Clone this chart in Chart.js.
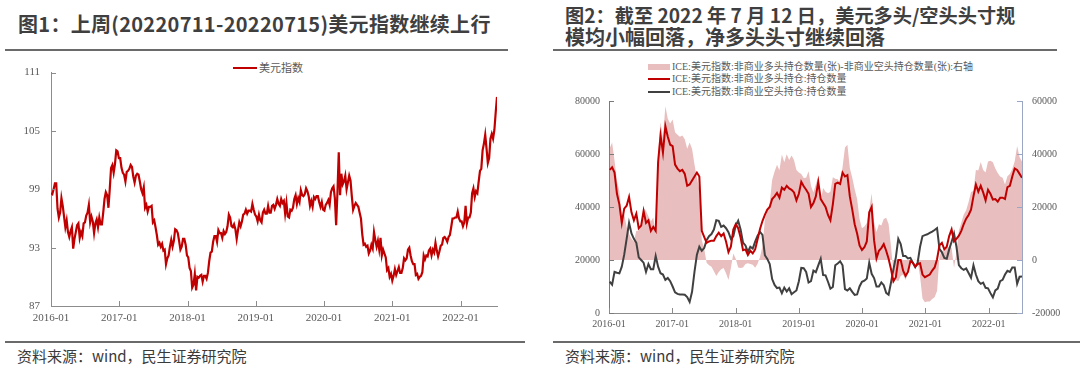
<!DOCTYPE html>
<html>
<head>
<meta charset="utf-8">
<script src="https://cdn.jsdelivr.net/npm/chart.js@4.4.0/dist/chart.umd.min.js"></script>
<style>
body { margin: 0; width: 1080px; height: 368px; background: #fff; position: relative; overflow: hidden; font-family: "Noto Sans CJK SC", sans-serif; }
.t { position: absolute; font-weight: bold; font-size: 20px; color: #3f3f3f; line-height: 22px; white-space: nowrap; }
.rule { position: absolute; height: 2px; background: #6a6a6a; }
.src { position: absolute; top: 346px; font-size: 15px; color: #3a3a3a; white-space: nowrap; line-height: 20px; }
.lg { position: absolute; font-family: "Liberation Serif", "Noto Sans CJK SC", serif; font-size: 10px; color: #595959; white-space: nowrap; line-height: 12px; }
.lg i { display: inline-block; vertical-align: middle; margin-right: 2px; position: relative; top: -1px; }
canvas { position: absolute; }
</style>
</head>
<body>
<div class="t" style="left:18px;top:13px;letter-spacing:0.3px">图1：上周(20220711-20220715)美元指数继续上行</div>
<div class="t" style="left:565px;top:4px"><span style="font-size:19.2px">图2：截至 2022 年 7 月 12 日，美元多头/空头头寸规</span><br>模均小幅回落，净多头头寸继续回落</div>
<div class="rule" style="left:5px;top:49px;width:503px"></div>
<div class="rule" style="left:553px;top:49px;width:504px"></div>
<div class="rule" style="left:5px;top:341px;width:520px"></div>
<div class="rule" style="left:553px;top:341px;width:527px"></div>
<div class="src" style="left:17px">资料来源：wind，民生证券研究院</div>
<div class="src" style="left:565px">资料来源：wind，民生证券研究院</div>

<div class="lg" style="left:233px;top:62px;font-size:11px"><i style="width:24px;height:2px;background:#C00000"></i>美元指数</div>
<div class="lg" style="left:648px;top:61px"><i style="width:22px;height:6px;background:#E8BEBE"></i>ICE:美元指数:非商业多头持仓数量(张)-非商业空头持仓数量(张):右轴</div>
<div class="lg" style="left:648px;top:73px"><i style="width:22px;height:2px;background:#C00000"></i>ICE:美元指数:非商业多头持仓:持仓数量</div>
<div class="lg" style="left:648px;top:86px"><i style="width:22px;height:2px;background:#404040"></i>ICE:美元指数:非商业空头持仓:持仓数量</div>

<canvas id="c1" width="530" height="285" style="left:0;top:55px"></canvas>
<canvas id="c2" width="535" height="285" style="left:545px;top:55px"></canvas>

<script>
// 美元指数, weekly (Fridays) from 2016-01-01
const dxyStart = '2016-01-01';
const dxyValues = [
  98.6, 98.5, 99.0, 99.6, 99.6, 97.0, 96.1, 96.6, 98.1, 97.3, 96.2, 95.1, 95.8, 94.6, 94.1, 94.7, 95.1, 92.9,
  93.9, 94.6, 95.3, 95.5, 94.0, 94.6, 94.2, 95.5, 95.6, 96.3, 96.6, 97.4, 95.6, 96.2, 95.7, 94.5, 95.5,
  95.9, 95.1, 96.1, 95.4, 95.4, 96.6, 98.0, 98.7, 98.4, 97.1, 99.0, 101.2, 101.5, 100.7, 101.6, 103.0, 102.9, 102.2,
  // 2017
  102.2, 101.2, 100.7, 100.5, 99.8, 100.8, 100.9, 101.1, 101.5, 101.3, 100.3, 99.7, 100.4, 100.6, 100.5, 99.8, 99.0,
  98.6, 99.2, 97.1, 97.4, 96.7, 97.2, 97.2, 97.3, 95.6, 95.8, 95.1, 94.3, 93.3, 93.5, 93.1, 93.4, 92.7,
  92.8, 91.3, 91.9, 92.2, 93.1, 93.8, 93.1, 93.7, 94.9, 94.8, 94.5, 93.7, 92.8, 93.1, 93.9, 93.9, 93.3, 92.2,
  // 2018
  92.0, 90.9, 90.6, 88.9, 89.2, 90.3, 88.6, 90.0, 89.9, 90.1, 90.2, 89.5, 90.1, 90.1, 89.8, 90.4, 91.6,
  92.5, 92.6, 93.6, 94.2, 94.2, 93.6, 94.8, 94.5, 94.5, 94.0, 94.7, 94.4, 94.6, 95.2, 96.4, 96.1, 95.2, 95.1,
  95.4, 94.9, 93.9, 94.8, 95.6, 95.2, 95.7, 96.4, 96.5, 96.9, 96.5, 96.8, 96.8, 96.7, 97.5, 96.9, 96.4,
  // 2019
  96.2, 95.7, 96.4, 95.8, 95.6, 96.6, 96.9, 96.5, 96.5, 97.3, 96.6, 96.6, 97.3, 97.4, 97.0, 97.4, 98.0,
  97.5, 97.3, 98.0, 97.6, 97.8, 96.5, 97.6, 96.2, 96.1, 96.9, 96.8, 97.1, 98.0, 98.4, 97.5, 98.1, 97.7, 98.9,
  98.4, 98.3, 98.5, 99.1, 98.8, 98.3, 97.3, 97.8, 97.2, 98.2, 98.0, 98.3, 98.3, 97.7, 97.2, 97.7, 96.9,
  // 2020
  96.8, 97.4, 97.6, 97.9, 97.4, 98.7, 99.1, 99.3, 98.1, 95.3, 98.7, 102.8, 98.4, 100.6, 99.5, 99.8, 100.4,
  99.0, 99.7, 100.4, 99.9, 98.3, 96.9, 97.3, 97.6, 97.4, 97.2, 96.6, 96.0, 94.4, 93.3, 93.4, 93.1, 93.2, 92.4,
  92.7, 93.3, 92.9, 94.6, 93.8, 93.1, 93.7, 92.8, 94.0, 92.2, 92.8, 92.4, 92.0, 90.7, 90.9, 90.0, 90.3,
  // 2021
  89.6, 90.1, 90.8, 90.2, 90.6, 91.0, 90.4, 90.4, 90.9, 91.9, 91.7, 91.9, 92.8, 93.0, 92.2, 91.6, 91.3, 91.3,
  90.2, 90.3, 89.8, 90.0, 90.1, 90.5, 92.2, 91.8, 92.2, 92.1, 92.7, 92.9, 92.2, 92.8, 92.5, 93.5, 92.7,
  92.1, 92.6, 93.2, 93.3, 94.0, 94.1, 93.9, 93.6, 94.1, 94.3, 95.1, 96.0, 96.0, 96.1, 96.1, 96.7, 96.0, 95.7,
  // 2022
  95.7, 95.2, 95.6, 97.3, 95.5, 96.1, 96.1, 96.6, 98.6, 99.1, 98.2, 98.8, 98.6, 99.8, 100.9, 101.1, 103.0,
  103.7, 104.6, 103.2, 101.7, 102.2, 104.2, 104.7, 104.2, 105.1, 106.9, 108.5
];

// ICE 美元指数 非商业持仓, every two weeks from 2016-01-05
const cotStart = '2016-01-05';
const longPos = [
  54000, 55000, 53000, 45000, 41000, 34000, 39400, 40500, 43800, 38000,
  35000, 37500, 32000, 33000, 38500, 34000, 35000, 31000, 32500, 31000,
  57000, 67000, 60500, 70500, 66500, 63500, 63000, 56000, 54500, 53500,
  54000, 52500, 48000, 48500, 50000, 51500, 53000, 51500, 31000, 28700,
  26500, 27000, 27300, 27300, 29000, 30300, 29000, 30000, 27000, 23000,
  25000, 31500, 33500, 32000, 28500, 23700, 24000, 21900, 23500, 22500,
  24000, 27800, 31700, 34700, 37000, 39000, 40000, 43000, 44000, 45300,
  43500, 47300, 46500, 48000, 47000, 46500, 45500, 42500, 45000, 49500,
  47800, 46500, 45000, 40000, 41500,
  44000, 49500, 43000, 41500, 40000, 37000, 35000, 41000, 48700, 49200,
  48700, 53000, 51500, 52000, 44000, 39000, 33500, 30000, 25500, 23800,
  24800, 27000, 38000, 40000, 27500, 20600, 23500, 24500, 26000, 23500,
  20500, 16500, 12000, 13500, 20000, 20000, 16000, 14000, 15500, 19500,
  19000, 17500, 18500, 18800, 14500, 13500, 14000, 14500, 16000, 17200,
  20300, 25500, 26500, 24000, 25000, 29000, 31500, 27000, 28000, 29200,
  31000, 33500, 35600, 37000, 39000, 44000, 48500, 45800, 48000, 45500,
  42500, 46500, 45000, 42800, 43000, 42000, 43500, 43500, 43000, 47500,
  48000, 51500, 54500, 54000, 52500, 51000
];
const shortPos = [
  11800, 10700, 15500, 15200, 15000, 17500, 22000, 28000, 34000, 30000,
  28000, 26500, 21000, 20000, 19000, 15500, 18500, 16500, 16500, 21500,
  17500, 15000, 14500, 12500, 13200, 12000, 10000, 7800, 7200, 7000,
  7000, 6900, 6000, 4200, 8000, 15500, 22000, 25000, 23500, 24500,
  27500, 29000, 29800, 31500, 35000, 34800, 32500, 33000, 32000, 30500,
  28000, 29000, 33000, 34800, 31500, 26500, 25500, 23100, 25000, 24300,
  26900, 29200, 30600, 29500, 21800, 20400, 18500, 12800, 10600, 9400,
  9600, 7500, 9600, 8100, 9300, 7100, 7800, 8500, 12000, 17000,
  16900, 15500, 11500, 12000, 16000,
  15400, 18000, 20500, 14300, 14200, 11800, 9200, 9800, 18000, 18700,
  19500, 18000, 9000, 8500, 9300, 8000, 6800, 7000, 10000, 11800,
  12200, 13000, 19000, 14800, 13200, 10000, 10000, 11500, 10500, 7600,
  6900, 11500, 16500, 21000, 28000, 26000, 21500, 21500, 20600, 20800,
  19000, 17300, 19000, 25000, 29000, 29400, 29700, 30200, 30700, 31300,
  32000, 24200, 22900, 20800, 20500, 24000, 26900, 30000, 25000, 18100,
  16900, 16300, 16800, 15100, 13300, 18000, 14500, 12000, 11000, 11500,
  9500, 9300, 7500, 5900, 8500, 9200, 12000, 12500, 14500, 15900,
  15500, 17200, 17200, 11000, 13700, 13800
];
// net = long - short, as the legend says
const netPos = longPos.map((v, i) => v - shortPos[i]);

const yearTicks = [2016, 2017, 2018, 2019, 2020, 2021, 2022];

const RED = '#C00000', GREY = '#404040', PINK = '#E8BEBE';
const TXT = '#595959', AXIS = '#8c8c8c';
const SERIF = '"Liberation Serif", "Times New Roman", serif';

function toYear(d) {
  const y = d.getUTCFullYear();
  const a = Date.UTC(y, 0, 1), b = Date.UTC(y + 1, 0, 1);
  return y + (d - a) / (b - a);
}
function datesFrom(start, n, stepDays) {
  const t0 = Date.parse(start + 'T00:00:00Z');
  const out = [];
  for (let i = 0; i < n; i++) out.push(toYear(new Date(t0 + i * stepDays * 86400000)));
  return out;
}
const dxyX = datesFrom(dxyStart, dxyValues.length, 7);
const cotX = datesFrom(cotStart, longPos.length, 14);
const pts = (xs, ys) => xs.map((x, i) => ({ x: x, y: ys[i] }));

// small tick marks pointing into the plot
const innerTicks = {
  id: 'innerTicks',
  afterDraw(chart) {
    const ctx = chart.ctx;
    Object.values(chart.scales).forEach(s => {
      ctx.save();
      ctx.strokeStyle = s.options.border.color;
      ctx.lineWidth = 1;
      s.ticks.forEach(t => {
        const p = Math.round(s.getPixelForValue(t.value)) + 0.5;
        ctx.beginPath();
        if (s.axis === 'x') { ctx.moveTo(p, s.top); ctx.lineTo(p, s.top - 5); }
        else if (s.position === 'left') { ctx.moveTo(s.right, p); ctx.lineTo(s.right + 5, p); }
        else { ctx.moveTo(s.left, p); ctx.lineTo(s.left - 5, p); }
        ctx.stroke();
      });
      ctx.restore();
    });
  }
};

const noGrid = { display: false, drawTicks: false, tickLength: 0 };

function xAxis(max, h, size, pad) {
  return {
    type: 'linear', min: 2016, max: max,
    grid: noGrid,
    border: { color: AXIS, width: 1 },
    afterBuildTicks: s => { s.ticks = yearTicks.map(v => ({ value: v })); },
    afterFit: s => { s.height = h; },
    ticks: { callback: v => v + '-01', color: TXT, font: { family: SERIF, size: size }, padding: pad, maxRotation: 0, autoSkip: false }
  };
}

function yAxis(pos, min, max, step, w, size, pad, color) {
  return {
    position: pos, min: min, max: max,
    grid: noGrid,
    border: { color: color, width: 1 },
    afterFit: s => { s.width = w; },
    ticks: { stepSize: step, callback: v => String(v), color: TXT, font: { family: SERIF, size: size }, padding: pad }
  };
}

new Chart(document.getElementById('c1'), {
  type: 'line',
  data: {
    datasets: [{ data: pts(dxyX, dxyValues), borderColor: RED, borderWidth: 2.2, pointRadius: 0, fill: false }]
  },
  options: {
    responsive: false, animation: false, devicePixelRatio: 1,
    layout: { padding: { top: 12, right: 33, left: 0, bottom: 0 } },
    plugins: { legend: { display: false }, tooltip: { enabled: false } },
    scales: {
      x: xAxis(dxyX[dxyX.length - 1], 34, 11, 6),
      y: yAxis('left', 87, 111, 6, 51, 11, 11, AXIS)
    }
  },
  plugins: [innerTicks]
});

new Chart(document.getElementById('c2'), {
  type: 'line',
  data: {
    datasets: [
      { data: pts(cotX, longPos), yAxisID: 'y', borderColor: RED, borderWidth: 2, pointRadius: 0, fill: false, order: 0 },
      { data: pts(cotX, shortPos), yAxisID: 'y', borderColor: GREY, borderWidth: 2, pointRadius: 0, fill: false, order: 0 },
      { data: pts(cotX, netPos), yAxisID: 'y1', borderWidth: 0, borderColor: 'rgba(0,0,0,0)', backgroundColor: PINK, pointRadius: 0, fill: 'origin', order: 1 }
    ]
  },
  options: {
    responsive: false, animation: false, devicePixelRatio: 1,
    layout: { padding: { top: 46, right: 0, left: 0, bottom: 0 } },
    plugins: { legend: { display: false }, tooltip: { enabled: false } },
    scales: {
      x: xAxis(cotX[cotX.length - 1], 27, 10, 5),
      y: yAxis('left', 0, 80000, 20000, 64, 10, 9, '#7a7a7a'),
      y1: yAxis('right', -20000, 60000, 20000, 58, 10, 10, '#9AA6C4')
    }
  },
  plugins: [innerTicks]
});
</script>
</body>
</html>
